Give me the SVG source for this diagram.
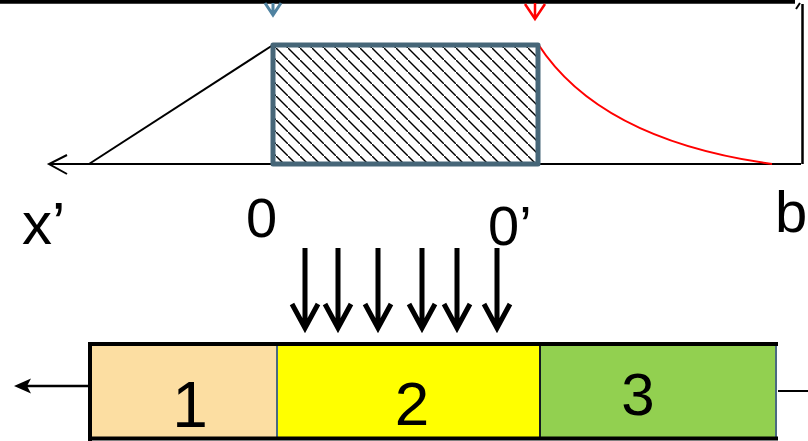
<svg xmlns="http://www.w3.org/2000/svg" width="808" height="441" viewBox="0 0 808 441">
<style>
.lbl{font-family:"Liberation Sans",Arial,sans-serif;fill:#000}
.thin{stroke:#000;stroke-width:2;fill:none}
.dn{stroke:#000;stroke-width:5;fill:none;stroke-linecap:butt}
</style>
<defs>
<pattern id="hatch" patternUnits="userSpaceOnUse" width="12" height="12">
<path d="M-2,-2 L14,14" stroke="#000" stroke-width="1.4"/>
</pattern>
</defs>
<rect width="808" height="441" fill="#fff"/>
<g id="frame">
<path d="M0,1.8 H795" stroke="#000" stroke-width="4"/>
<path d="M796,9 L800,3" stroke="#000" stroke-width="2"/>
<path d="M802.5,4 V164" stroke="#000" stroke-width="2.5"/>
</g>
<g id="connectors">
<path d="M273,3 V15 M265,3 L273,15 L281,3" stroke="#4f82a0" stroke-width="3" fill="none"/>
<path d="M535,3 V19 M525,4 L535,19 L545,4" stroke="#f00" stroke-width="2.5" fill="none"/>
<path d="M49,164 H273 M538,164 H801" class="thin"/>
<path d="M67,155 L49,164 L67,174" class="thin"/>
<path d="M89,164 L273,45" class="thin"/>
<path d="M538,44 Q600,140 772,164" stroke="#f00" stroke-width="2" fill="none"/>
<g id="down-arrows">
<path d="M305,248 V327 M292,304 L305,328 L318,304" class="dn"/>
<path d="M338,248 V327 M325,304 L338,328 L351,304" class="dn"/>
<path d="M378,248 V327 M365,304 L378,328 L391,304" class="dn"/>
<path d="M422,248 V327 M409,304 L422,328 L435,304" class="dn"/>
<path d="M457,248 V327 M444,304 L457,328 L470,304" class="dn"/>
<path d="M497,248 V327 M484,304 L497,328 L510,304" class="dn"/>
</g>
<path d="M88,386 H26" stroke="#000" stroke-width="2.5" fill="none"/>
<path d="M14,386 L31,378.5 L27,386 L31,393.5 Z" fill="#000"/>
<path d="M778,391 H808" stroke="#000" stroke-width="2" fill="none"/>
</g>
<g id="zone">
<rect x="273" y="45" width="265" height="119" fill="#fff"/>
<rect x="273" y="45" width="265" height="119" fill="url(#hatch)" stroke="#466678" stroke-width="5" stroke-linejoin="round"/>
</g>
<g id="labels">
<text class="lbl" x="22" y="244" font-size="60">x’</text>
<text class="lbl" x="246" y="237" font-size="56">0</text>
<text class="lbl" x="488" y="245" font-size="56">0’</text>
<text class="lbl" x="775" y="232" font-size="58">b</text>
</g>
<g id="box1">
<rect x="90" y="344" width="187" height="94" fill="#fcdea2" stroke="#4a6a80" stroke-width="2"/>
<text class="lbl" x="190" y="427" font-size="64" text-anchor="middle">1</text>
</g>
<g id="box2">
<rect x="278" y="344" width="262" height="94" fill="#ffff00"/>
<text class="lbl" x="412" y="425" font-size="62" text-anchor="middle">2</text>
</g>
<g id="box3">
<rect x="540" y="344" width="236" height="94" fill="#92d050" stroke="#4a6a80" stroke-width="2"/>
<text class="lbl" x="638" y="415" font-size="60" text-anchor="middle">3</text>
</g>
<g id="outline">
<path d="M90,344 H778 M90,438.5 H778 M90,342 V441" stroke="#000" stroke-width="4" fill="none"/>
<path d="M540,344 V438" stroke="#000" stroke-width="1.5"/>
</g>
</svg>
